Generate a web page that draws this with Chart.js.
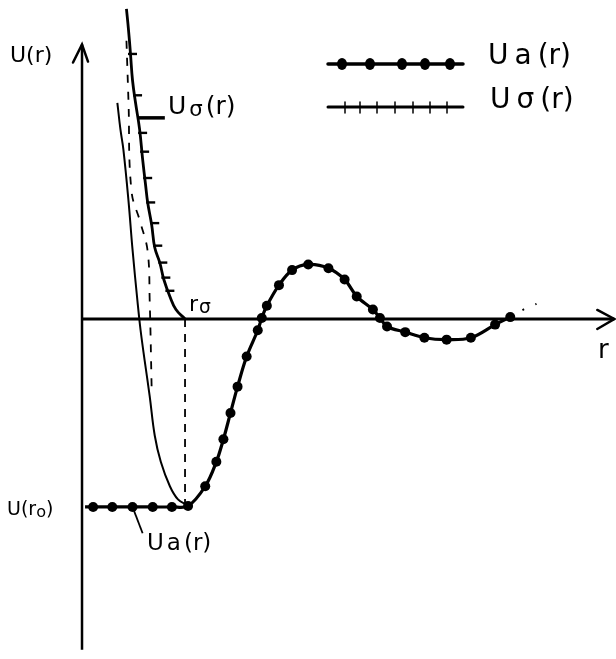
<!DOCTYPE html>
<html>
<head>
<meta charset="utf-8">
<script src="https://cdn.jsdelivr.net/npm/chart.js@4"></script>
<style>
  html, body { margin: 0; padding: 0; background: #fff; }
  #wrap { width: 616px; height: 659px; }
</style>
</head>
<body>
<div id="wrap"><canvas id="c"></canvas></div>
<script>
// units: r in multiples of r0 spacing, U in multiples of |U(r0)|
// attractive part Ua(r) (thick line with dots)
const rA = [0.03, 0.11, 0.30, 0.50, 0.70, 0.89, 1.05, 1.22, 1.33, 1.40, 1.47, 1.54, 1.63, 1.74, 1.78, 1.83, 1.95, 2.08, 2.24, 2.44, 2.60, 2.72, 2.88, 2.95, 3.02, 3.20, 3.39, 3.61, 3.85, 4.09, 4.24];
const uA = [-1.0, -1.0, -1.0, -1.0, -1.0, -1.0, -0.995, -0.89, -0.76, -0.64, -0.50, -0.36, -0.20, -0.06, 0.005, 0.07, 0.18, 0.26, 0.29, 0.27, 0.21, 0.12, 0.05, 0.005, -0.04, -0.07, -0.10, -0.11, -0.10, -0.03, 0.01];
// dotted continuation of Ua
const rTail = [4.24, 4.37, 4.50];
const uTail = [0.01, 0.05, 0.08];

// repulsive part U0(r) (line with ticks), ends at r0
const r0 = 1.02;
const rO = [0.44, 0.46, 0.48, 0.50, 0.53, 0.57, 0.60, 0.63, 0.65, 0.69, 0.72, 0.77, 0.81, 0.87, 0.93, 1.02];
const uO = [1.65, 1.54, 1.41, 1.27, 1.15, 1.01, 0.85, 0.71, 0.62, 0.50, 0.38, 0.30, 0.21, 0.12, 0.05, 0.0];
const rTicks = [0.50, 0.55, 0.60, 0.62, 0.65, 0.68, 0.72, 0.75, 0.80, 0.83, 0.87];
const uTicks = [1.41, 1.19, 0.99, 0.89, 0.75, 0.62, 0.51, 0.39, 0.30, 0.22, 0.15];

// full potential U(r) (thin line)
const rU = [0.35, 0.38, 0.41, 0.46, 0.50, 0.55, 0.58, 0.62, 0.67, 0.72, 0.78, 0.87, 0.95, 1.04];
const uU = [1.15, 1.01, 0.90, 0.63, 0.37, 0.09, -0.06, -0.22, -0.41, -0.62, -0.76, -0.89, -0.96, -0.99];

// dashed curve
const rD = [0.44, 0.46, 0.49, 0.58, 0.65, 0.67, 0.69];
const uD = [1.48, 1.16, 0.68, 0.51, 0.36, 0.10, -0.38];

// axes ranges
const axisR = [0, 5.27];
const axisU = [-1.76, 1.46];
const uMin = -1.0;   // U(r0)

const pts = (xs, ys) => xs.map((x, i) => ({ x: x, y: ys[i] }));
const FONT = '"DejaVu Sans", sans-serif';

function drawLabel(ctx, parts, x, y, size, spacing) {
    ctx.save();
    ctx.fillStyle = '#000';
    ctx.textBaseline = 'alphabetic';
    let cx = x;
    parts.forEach(p => {
        const sub = p[1];
        const s = sub ? size * 0.85 : size;
        ctx.font = s + 'px ' + FONT;
        ctx.fillText(p[0], cx, y + (sub ? 2 : 0));
        cx += ctx.measureText(p[0]).width + spacing;
    });
    ctx.restore();
}

const sketchPlugin = {
    id: 'sketch',
    beforeDraw(chart) {
        const ctx = chart.ctx;
        ctx.save();
        ctx.fillStyle = '#fff';
        ctx.fillRect(0, 0, chart.width, chart.height);
        ctx.restore();
    },
    afterDatasetsDraw(chart) {
        const ctx = chart.ctx;
        const xs = chart.scales.x, ys = chart.scales.y;
        const ox = xs.getPixelForValue(0), oy = ys.getPixelForValue(0);
        ctx.save();
        ctx.strokeStyle = '#000';
        ctx.lineWidth = 2.5;
        ctx.lineCap = 'round';
        // arrow heads
        const top = ys.getPixelForValue(axisU[1]);
        ctx.beginPath();
        ctx.moveTo(ox - 9, top + 18); ctx.lineTo(ox, top); ctx.lineTo(ox + 6, top + 17);
        ctx.stroke();
        const right = xs.getPixelForValue(axisR[1]);
        ctx.beginPath();
        ctx.moveTo(right - 17, oy - 9); ctx.lineTo(right, oy); ctx.lineTo(right - 17, oy + 10);
        ctx.stroke();

        // legend
        const lx0 = 328, lx1 = 463;
        ctx.lineWidth = 3.5;
        ctx.beginPath(); ctx.moveTo(lx0, 64); ctx.lineTo(lx1, 64); ctx.stroke();
        ctx.fillStyle = '#000';
        [342, 370, 402, 425, 450].forEach(x => {
            ctx.beginPath(); ctx.ellipse(x, 64, 5, 6, 0, 0, Math.PI * 2); ctx.fill();
        });
        ctx.lineWidth = 3;
        ctx.beginPath(); ctx.moveTo(lx0, 107); ctx.lineTo(lx1, 107); ctx.stroke();
        ctx.lineWidth = 1.5;
        [345, 360, 377, 395, 413, 430, 447].forEach(x => {
            ctx.beginPath(); ctx.moveTo(x, 102); ctx.lineTo(x, 113); ctx.stroke();
        });
        ctx.restore();

        drawLabel(ctx, [['U', 0], ['a', 0], ['(r)', 0]], 488, 64, 28, 6);
        drawLabel(ctx, [['U', 0], ['σ', 0], ['(r)', 0]], 490, 108, 28, 6);

        // texts on the plot
        drawLabel(ctx, [['U(r)', 0]], 10, 62, 22, 0);
        drawLabel(ctx, [['U', 0], ['σ', 1], ['(r)', 0]], 168, 114, 25, 3);
        drawLabel(ctx, [['r', 0], ['σ', 1]], xs.getPixelForValue(r0) + 4, oy - 8, 22, 1);
        drawLabel(ctx, [['r', 0]], 598, 358, 26, 0);
        drawLabel(ctx, [['U(r', 0], ['o', 1], [')', 0]], 7, ys.getPixelForValue(uMin) + 8, 19, 0);
        drawLabel(ctx, [['U', 0], ['a', 0], ['(r)', 0]], 147, 550, 23, 3);
    }
};

const black = '#000';

new Chart(document.getElementById('c'), {
    type: 'line',
    data: {
        datasets: [
            {   // axes
                data: [{ x: 0, y: axisU[0] }, { x: 0, y: axisU[1] }],
                borderColor: black, borderWidth: 2.5, pointRadius: 0
            },
            {
                data: [{ x: axisR[0], y: 0 }, { x: axisR[1], y: 0 }],
                borderColor: black, borderWidth: 3, pointRadius: 0
            },
            {   // r0 guide
                data: [{ x: r0, y: 0 }, { x: r0, y: uMin }],
                borderColor: black, borderWidth: 1.8, borderDash: [8, 7], pointRadius: 0
            },
            {   // dashed curve
                data: pts(rD, uD),
                borderColor: black, borderWidth: 1.8, borderDash: [8, 9], pointRadius: 0, tension: 0.4
            },
            {   // full potential
                data: pts(rU, uU),
                borderColor: black, borderWidth: 2, pointRadius: 0, tension: 0.4
            },
            {   // U0
                data: pts(rO, uO),
                borderColor: black, borderWidth: 2.8, pointRadius: 0, tension: 0.4
            },
            {   // U0 ticks
                data: pts(rTicks, uTicks),
                showLine: false, pointStyle: 'line', pointRadius: 4.5,
                pointBorderColor: black, pointBorderWidth: 2.4
            },
            {   // U0 leader line
                data: [{ x: 0.55, y: 1.07 }, { x: 0.82, y: 1.07 }],
                borderColor: black, borderWidth: 3.5, pointRadius: 0
            },
            {   // Ua
                data: pts(rA, uA),
                borderColor: black, borderWidth: 3.2, tension: 0.35,
                pointRadius: c => (c.dataIndex === 0 ? 0 : 5),
                pointBackgroundColor: black, pointBorderColor: black, pointBorderWidth: 0
            },
            {   // Ua dotted tail
                data: pts(rTail, uTail),
                borderColor: black, borderWidth: 2, borderDash: [2, 12], pointRadius: 0, tension: 0.3
            },
            {   // Ua leader line
                data: [{ x: 0.50, y: -1.0 }, { x: 0.60, y: -1.14 }],
                borderColor: black, borderWidth: 1.8, pointRadius: 0
            }
        ]
    },
    options: {
        responsive: true,
        maintainAspectRatio: false,
        animation: false,
        layout: { padding: 0, autoPadding: false },
        scales: {
            x: { type: 'linear', min: -0.812, max: 5.287, display: false },
            y: { type: 'linear', min: -1.809, max: 1.697, display: false }
        },
        plugins: {
            legend: { display: false },
            tooltip: { enabled: false }
        }
    },
    plugins: [sketchPlugin]
});
</script>
</body>
</html>
